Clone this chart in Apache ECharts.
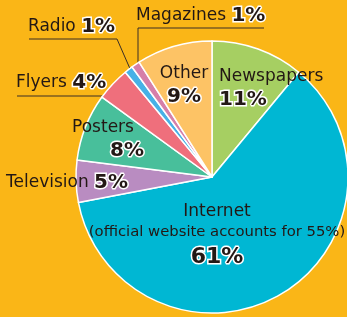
<!DOCTYPE html>
<html>
<head>
<meta charset="utf-8">
<script src="https://cdn.jsdelivr.net/npm/echarts@6/dist/echarts.min.js"></script>
<style>
  html, body { margin: 0; padding: 0; background: #fab617; }
  #chart { width: 347px; height: 317px; }
</style>
</head>
<body>
<div id="chart"></div>
<script>
// data (clockwise from 12 o'clock)
const categories = ["Newspapers", "Internet", "Television", "Posters", "Flyers", "Radio", "Magazines", "Other"];
const shares = [11, 61, 5, 8, 4, 1, 1, 9];
const notes = ["", "(official website accounts for 55%)", "", "", "", "", "", ""];

const colors = ["#a6cf62", "#00b7d3", "#b98cc1", "#48bf9b", "#ef6f7c", "#47b1e6", "#d67fa9", "#fdc365"];
const ink = "#231815";

// where each label sits
const labelSpots = [
  { x: 219, y: 89, align: "left", kind: "stack" },
  { x: 217, y: 237, align: "center", kind: "internet" },
  { x: 6, y: 183, align: "left", kind: "line" },
  { x: 103, y: 140, align: "center", kind: "stack", shift: 48 },
  { x: 16, y: 83, align: "left", kind: "line", line: [[116, 96], [116, 96], [17, 96]] },
  { x: 28, y: 27, align: "left", kind: "line", line: [[131, 71], [117, 39], [29, 39]] },
  { x: 136, y: 16, align: "left", kind: "line", line: [[138, 64], [138, 28], [264, 28]] },
  { x: 184, y: 86, align: "center", kind: "stack" }
];

const chart = echarts.init(document.getElementById("chart"));

const pieData = categories.map((name, i) => ({
  name: name,
  value: shares[i],
  itemStyle: { color: colors[i] },
  labelLine: { show: !!labelSpots[i].line }
}));

chart.setOption({
  backgroundColor: "#fab617",
  animation: false,
  series: [
    {
      type: "pie",
      center: [212, 177],
      radius: 136,
      startAngle: 90,
      clockwise: true,
      avoidLabelOverlap: false,
      itemStyle: { borderColor: "#fff", borderWidth: 1.5 },
      label: {
        show: true,
        position: "outside",
        color: ink,
        fontFamily: "DejaVu Sans",
        formatter(p) {
          const s = labelSpots[p.dataIndex];
          if (s.kind === "internet") {
            return "{n|" + p.name + "}\n{s|" + notes[p.dataIndex] + "}\n{b|" + p.value + "%}";
          }
          if (s.kind === "stack") {
            const tag = s.shift ? "q" : "p";
            return "{n|" + p.name + "}\n{" + tag + "|" + p.value + "%}";
          }
          return "{n|" + p.name + " }{p|" + p.value + "%}";
        },
        rich: {
          n: { fontSize: 17, color: ink, fontFamily: "DejaVu Sans", lineHeight: 22 },
          s: { fontSize: 14.8, color: ink, fontFamily: "DejaVu Sans", lineHeight: 18 },
          p: {
            fontSize: 20, fontWeight: 900, color: ink, fontFamily: "DejaVu Sans",
            textBorderColor: "#fff", textBorderWidth: 3, lineHeight: 24
          },
          q: {
            fontSize: 20, fontWeight: 900, color: ink, fontFamily: "DejaVu Sans",
            textBorderColor: "#fff", textBorderWidth: 3, lineHeight: 24,
            padding: [0, 0, 0, 48]
          },
          b: {
            fontSize: 22, fontWeight: 900, color: ink, fontFamily: "DejaVu Sans",
            textBorderColor: "#fff", textBorderWidth: 3, lineHeight: 32
          }
        }
      },
      labelLine: {
        show: true,
        smooth: false,
        lineStyle: { color: "#3a2e26", width: 1 }
      },
      labelLayout(params) {
        const s = labelSpots[params.dataIndex];
        const out = { x: s.x, y: s.y, align: s.align, verticalAlign: "middle" };
        if (s.line) out.labelLinePoints = s.line;
        return out;
      },
      data: pieData
    }
  ]
});
</script>
</body>
</html>
